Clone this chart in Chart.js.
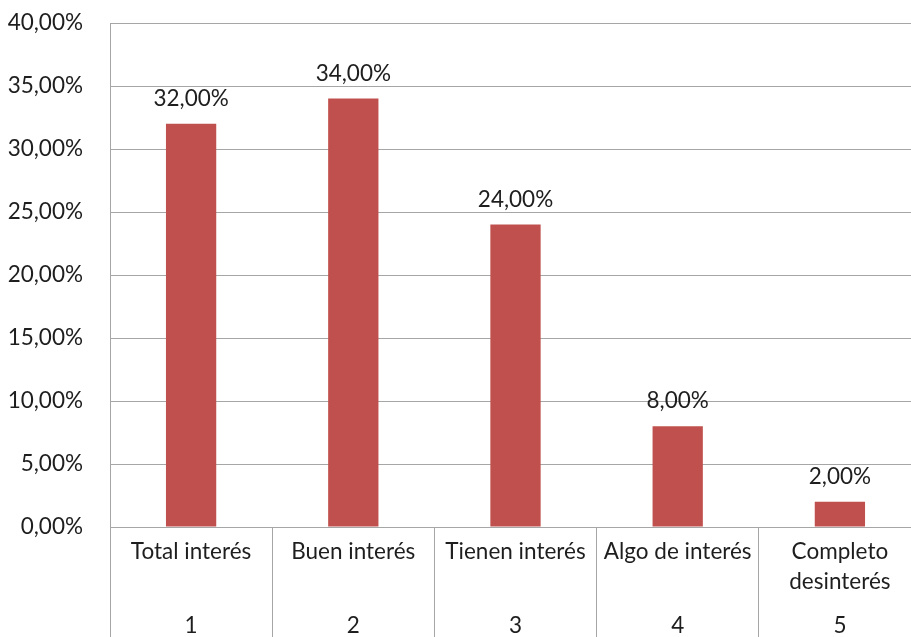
<!DOCTYPE html>
<html>
<head>
<meta charset="utf-8">
<script src="https://cdn.jsdelivr.net/npm/chart.js@4/dist/chart.umd.min.js"></script>
<style>
  html, body { margin: 0; padding: 0; background: #fff; overflow: hidden; }
  #wrap { width: 922px; height: 637px; }
</style>
</head>
<body>
<div id="wrap"><canvas id="chart" width="922" height="637"></canvas></div>
<script>
// Chart data
const categories = [['Total interés'], ['Buen interés'], ['Tienen interés'], ['Algo de interés'], ['Completo', 'desinterés']];
const numbers = ['1', '2', '3', '4', '5'];
const percentages = [32, 34, 24, 8, 2];

const FONT = 'Lato, "Open Sans", sans-serif';
const FSIZE = 22.5;
const TEXT = '#1e1e1e';
const GRID = '#a6a6a6';

function fmtPct(v) {
    return v.toFixed(2).replace('.', ',') + '%';
}

// Value labels above each bar
const barLabels = {
    id: 'barLabels',
    afterDatasetsDraw(chart) {
        const ctx = chart.ctx;
        const meta = chart.getDatasetMeta(0);
        ctx.save();
        ctx.font = FSIZE + 'px ' + FONT;
        ctx.fillStyle = TEXT;
        ctx.textAlign = 'center';
        ctx.textBaseline = 'middle';
        meta.data.forEach((bar, i) => {
            ctx.fillText(fmtPct(percentages[i]), bar.x, bar.y - 25);
        });
        ctx.restore();
    }
};

new Chart(document.getElementById('chart'), {
    type: 'bar',
    data: {
        labels: categories,
        datasets: [{
            data: percentages,
            backgroundColor: '#c0504d',
            barPercentage: 0.31,
            categoryPercentage: 1
        }]
    },
    options: {
        responsive: false,
        animation: false,
        devicePixelRatio: 1,
        layout: { padding: { top: 23, right: 1, left: 0, bottom: 0 } },
        plugins: { legend: { display: false }, tooltip: { enabled: false } },
        scales: {
            x: {
                position: 'bottom',
                border: { color: GRID, width: 1 },
                grid: {
                    offset: true,
                    drawOnChartArea: false,
                    color: GRID,
                    tickLength: 110
                },
                ticks: {
                    font: { family: FONT, size: FSIZE, lineHeight: '30px' },
                    color: TEXT,
                    padding: -100,
                    maxRotation: 0,
                    autoSkip: false
                },
                afterFit(scale) { scale.height = 83; }
            },
            x2: {
                type: 'category',
                position: 'bottom',
                labels: numbers,
                offset: true,
                border: { display: false },
                grid: { display: false, drawTicks: false },
                ticks: {
                    font: { family: FONT, size: FSIZE, lineHeight: '30px' },
                    color: TEXT,
                    padding: 1,
                    maxRotation: 0,
                    autoSkip: false
                },
                afterFit(scale) { scale.height = 27; }
            },
            y: {
                min: 0,
                max: 40,
                border: { color: GRID, width: 1 },
                grid: { color: GRID, drawTicks: false },
                ticks: {
                    stepSize: 5,
                    font: { family: FONT, size: FSIZE },
                    color: TEXT,
                    padding: 27,
                    callback: v => fmtPct(v)
                },
                afterFit(scale) {
                    scale.width = 110;
                    scale.paddingTop = 0;
                    scale.paddingBottom = 0;
                }
            }
        }
    },
    plugins: [barLabels]
});
</script>
</body>
</html>
